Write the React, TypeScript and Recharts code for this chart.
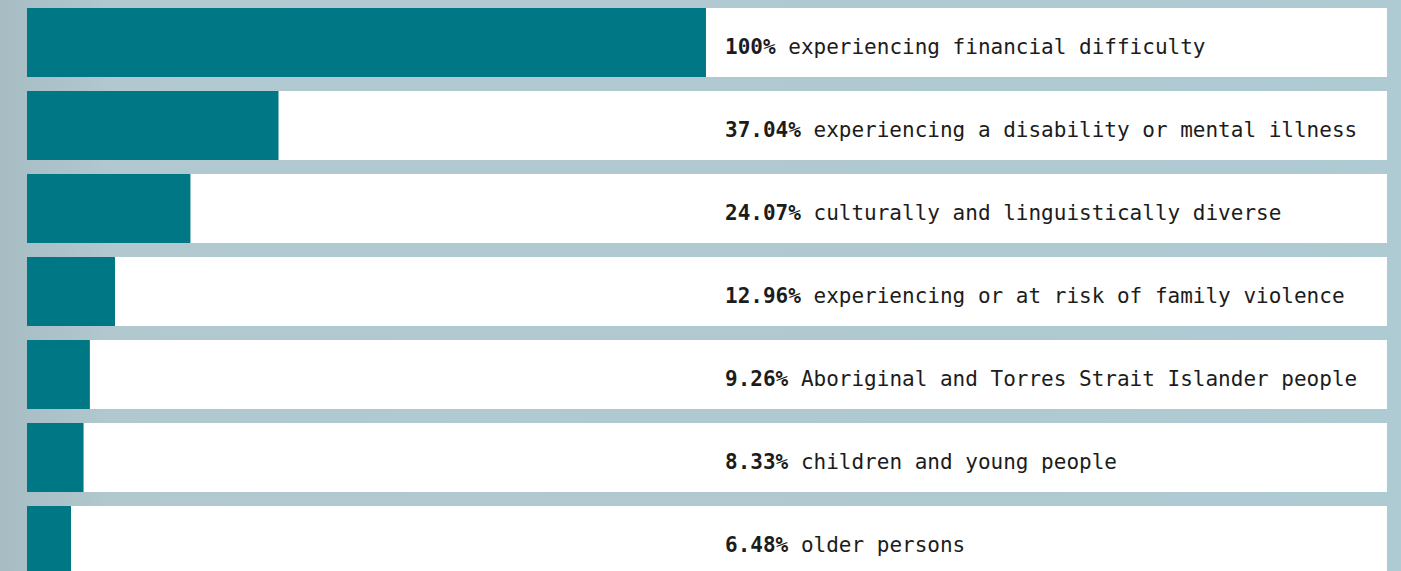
import React from 'react';
import { BarChart, Bar, XAxis, YAxis, LabelList } from 'recharts';

const categories = [
  'experiencing financial difficulty',
  'experiencing a disability or mental illness',
  'culturally and linguistically diverse',
  'experiencing or at risk of family violence',
  'Aboriginal and Torres Strait Islander people',
  'children and young people',
  'older persons',
];
const values = [100, 37.04, 24.07, 12.96, 9.26, 8.33, 6.48];
const valueLabels = ['100%', '37.04%', '24.07%', '12.96%', '9.26%', '8.33%', '6.48%'];

const data = categories.map((c, i) => ({ name: c, value: values[i], label: valueLabels[i] }));

const FONT = '"DejaVu Sans Mono", "Liberation Mono", monospace';

const RowLabel = (props: any) => {
  const { x, y, height, index } = props;
  const d = data[index];
  return (
    <text
      x={x + 698}
      y={y + height / 2 + 11}
      fontFamily={FONT}
      fontSize={21}
      fill="#1c1c1c"
    >
      <tspan fontWeight="bold">{d.label}</tspan>
      <tspan> {d.name}</tspan>
    </text>
  );
};

export default function App() {
  return (
    <div
      style={{
        position: 'fixed',
        left: 0,
        top: 0,
        width: 1401,
        height: 571,
        overflow: 'hidden',
        background: 'linear-gradient(90deg, #a7bcc3 0%, #b1c8cf 8%, #b0c9d0 60%, #aecad2 100%)',
      }}
    >
      <BarChart
        width={1401}
        height={582}
        data={data}
        layout="vertical"
        margin={{ top: 1, right: 14, bottom: 0, left: 27 }}
      >
        <XAxis type="number" domain={[0, 200.3]} hide />
        <YAxis type="category" dataKey="name" hide />
        <Bar
          dataKey="value"
          fill="#007784"
          barSize={69}
          background={{ fill: '#ffffff' }}
          isAnimationActive={false}
        >
          <LabelList dataKey="value" content={<RowLabel />} />
        </Bar>
      </BarChart>
    </div>
  );
}
